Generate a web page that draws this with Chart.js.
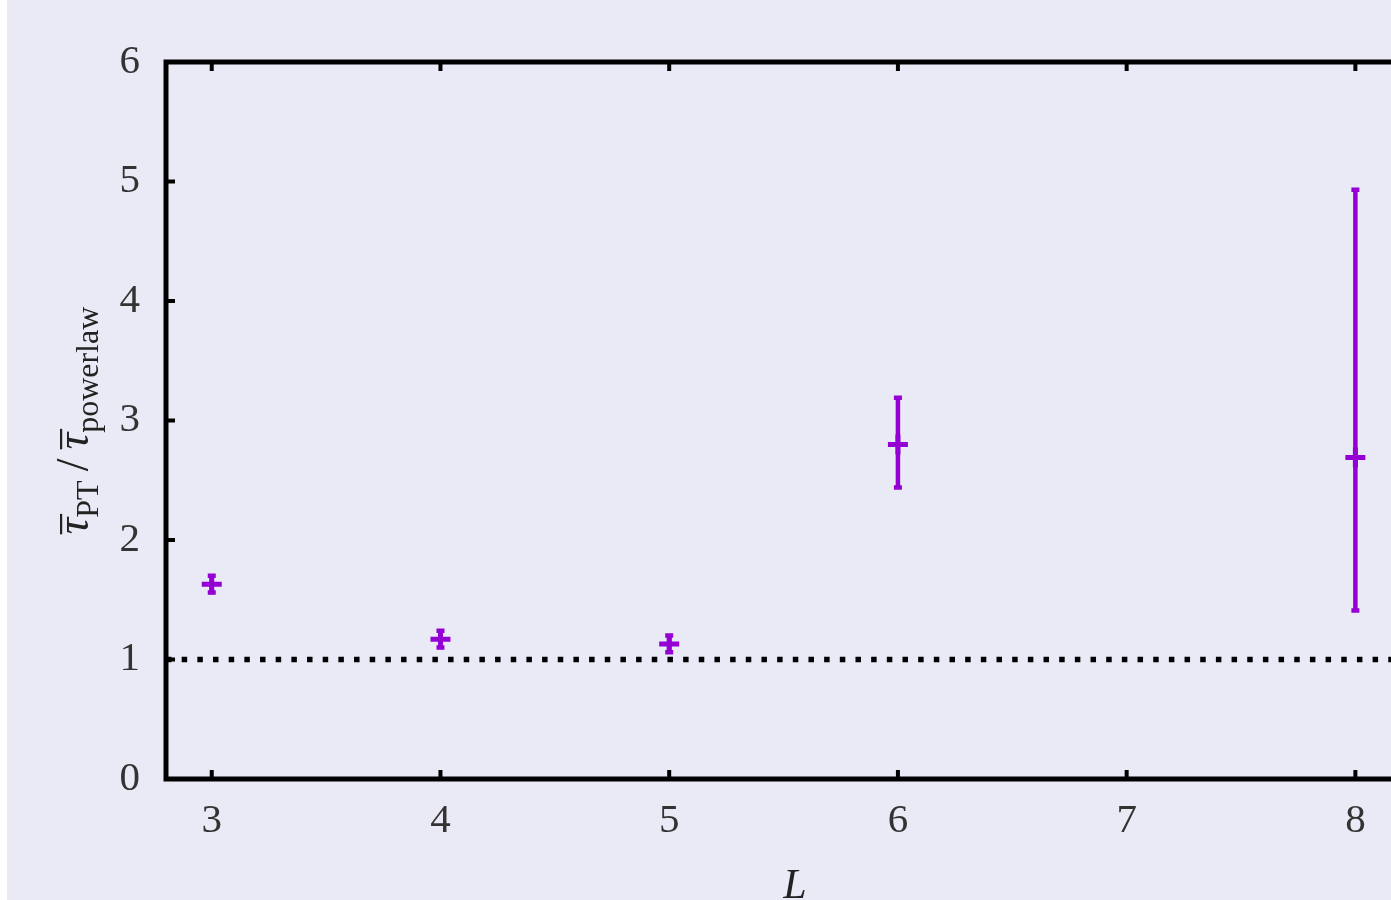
<!DOCTYPE html>
<html><head><meta charset="utf-8">
<script src="https://cdn.jsdelivr.net/npm/chart.js@4"></script>
<style>
html,body{margin:0;padding:0;overflow:hidden;background:#EAEAF6;width:1391px;height:900px;}
#c{position:absolute;left:0;top:0;width:1440px;height:900px;display:block;}
#strip{position:absolute;left:0;top:0;width:7px;height:900px;background:#ffffff;}
</style></head><body>
<canvas id="c" width="1440" height="900"></canvas>
<div id="strip"></div>
<script>
// ---- data ----
const L = [3, 4, 5, 6, 8];
const ratio = [1.63, 1.17, 1.13, 2.80, 2.69];
const ratioLow = [1.56, 1.10, 1.06, 2.44, 1.41];
const ratioHigh = [1.70, 1.24, 1.20, 3.19, 4.93];
const xTicks = [3, 4, 5, 6, 7, 8];
const yTicks = [0, 1, 2, 3, 4, 5, 6];
const xRange = [2.8, 8.3];
const yRange = [0, 6];
const refLevel = 1;
const xTitle = 'L';

const PURPLE = '#9400D3';
const SERIF = "'Liberation Serif','DejaVu Serif',serif";

const errorBars = {
  id: 'errorBars',
  afterDatasetsDraw(chart) {
    const ctx = chart.ctx, xs = chart.scales.x, ys = chart.scales.y;
    ctx.save();
    ctx.strokeStyle = PURPLE;
    ctx.lineCap = 'butt';
    for (let i = 0; i < L.length; i++) {
      const x = xs.getPixelForValue(L[i]);
      const yl = ys.getPixelForValue(ratioLow[i]);
      const yh = ys.getPixelForValue(ratioHigh[i]);
      ctx.lineWidth = 4.5;
      ctx.beginPath(); ctx.moveTo(x, yl); ctx.lineTo(x, yh); ctx.stroke();
      ctx.lineWidth = 4.5;
      ctx.beginPath();
      ctx.moveTo(x - 4, yl); ctx.lineTo(x + 4, yl);
      ctx.moveTo(x - 4, yh); ctx.lineTo(x + 4, yh);
      ctx.stroke();
    }
    ctx.restore();
  }
};

const frame = {
  id: 'frame',
  afterDraw(chart) {
    const ctx = chart.ctx, a = chart.chartArea, xs = chart.scales.x, ys = chart.scales.y;
    ctx.save();
    ctx.strokeStyle = '#000';
    ctx.lineWidth = 5;
    ctx.lineCap = 'butt';
    ctx.beginPath();
    ctx.moveTo(a.left, a.top - 2.5); ctx.lineTo(a.left, a.bottom + 2.5);
    ctx.moveTo(a.left - 2.5, a.top); ctx.lineTo(chart.width, a.top);
    ctx.moveTo(a.left - 2.5, a.bottom); ctx.lineTo(chart.width, a.bottom);
    ctx.stroke();
    ctx.lineWidth = 4;
    ctx.beginPath();
    xTicks.forEach(v => {
      const x = xs.getPixelForValue(v);
      ctx.moveTo(x, a.top); ctx.lineTo(x, a.top + 9);
      ctx.moveTo(x, a.bottom); ctx.lineTo(x, a.bottom - 9);
    });
    yTicks.forEach(v => {
      const y = ys.getPixelForValue(v);
      ctx.moveTo(a.left, y); ctx.lineTo(a.left + 9, y);
    });
    ctx.stroke();

    // x title
    ctx.fillStyle = '#222';
    ctx.font = 'italic 42px ' + SERIF;
    ctx.textAlign = 'center';
    ctx.textBaseline = 'alphabetic';
    ctx.fillText(xTitle, (a.left + a.right) / 2, 898);

    // y title with subscripts and overlines
    const parts = [
      {t: 'τ', f: 'italic 46px ' + SERIF, dy: 0, bar: true},
      {t: 'PT', f: '32px ' + SERIF, dy: 10},
      {t: '\u2009/\u2009', f: '46px ' + SERIF, dy: 0},
      {t: 'τ', f: 'italic 46px ' + SERIF, dy: 0, bar: true},
      {t: 'powerlaw', f: '32px ' + SERIF, dy: 10}
    ];
    let total = 0;
    parts.forEach(p => { ctx.font = p.f; p.w = ctx.measureText(p.t).width; total += p.w; });
    ctx.translate(88, (a.top + a.bottom) / 2);
    ctx.rotate(-Math.PI / 2);
    ctx.textAlign = 'left';
    let x = -total / 2;
    parts.forEach(p => {
      ctx.font = p.f;
      ctx.fillText(p.t, x, p.dy);
      if (p.bar) {
        ctx.fillRect(x, -28, p.w + 4, 2.2);
      }
      x += p.w;
    });
    ctx.restore();
  }
};

new Chart(document.getElementById('c'), {
  data: {
    datasets: [
      {
        type: 'line',
        data: [{x: xRange[0], y: refLevel}, {x: xRange[1], y: refLevel}],
        borderColor: '#000',
        borderWidth: 5.5,
        borderDash: [5.5, 10.17],
        borderCapStyle: 'butt',
        pointRadius: 0,
        fill: false
      },
      {
        type: 'scatter',
        data: L.map((v, i) => ({x: v, y: ratio[i]})),
        pointStyle: 'cross',
        pointRadius: 10,
        pointHoverRadius: 10,
        borderWidth: 5,
        borderColor: PURPLE,
        backgroundColor: PURPLE
      }
    ]
  },
  options: {
    responsive: false,
    animation: false,
    events: [],
    layout: {padding: {top: 62, right: 16, left: 0, bottom: 0}},
    plugins: {legend: {display: false}, tooltip: {enabled: false}},
    scales: {
      x: {
        type: 'linear',
        min: xRange[0], max: xRange[1],
        grid: {display: false, drawTicks: false},
        border: {display: false},
        afterBuildTicks: s => { s.ticks = xTicks.map(v => ({value: v})); },
        afterFit: s => { s.height = 121; },
        ticks: {color: '#333', padding: 18, font: {family: SERIF, size: 41}, maxRotation: 0}
      },
      y: {
        type: 'linear',
        min: yRange[0], max: yRange[1],
        grid: {display: false, drawTicks: false},
        border: {display: false},
        afterBuildTicks: s => { s.ticks = yTicks.map(v => ({value: v})); },
        afterFit: s => { s.width = 166; },
        ticks: {color: '#333', padding: 26, font: {family: SERIF, size: 41}}
      }
    }
  },
  plugins: [errorBars, frame]
});
</script>
</body></html>
